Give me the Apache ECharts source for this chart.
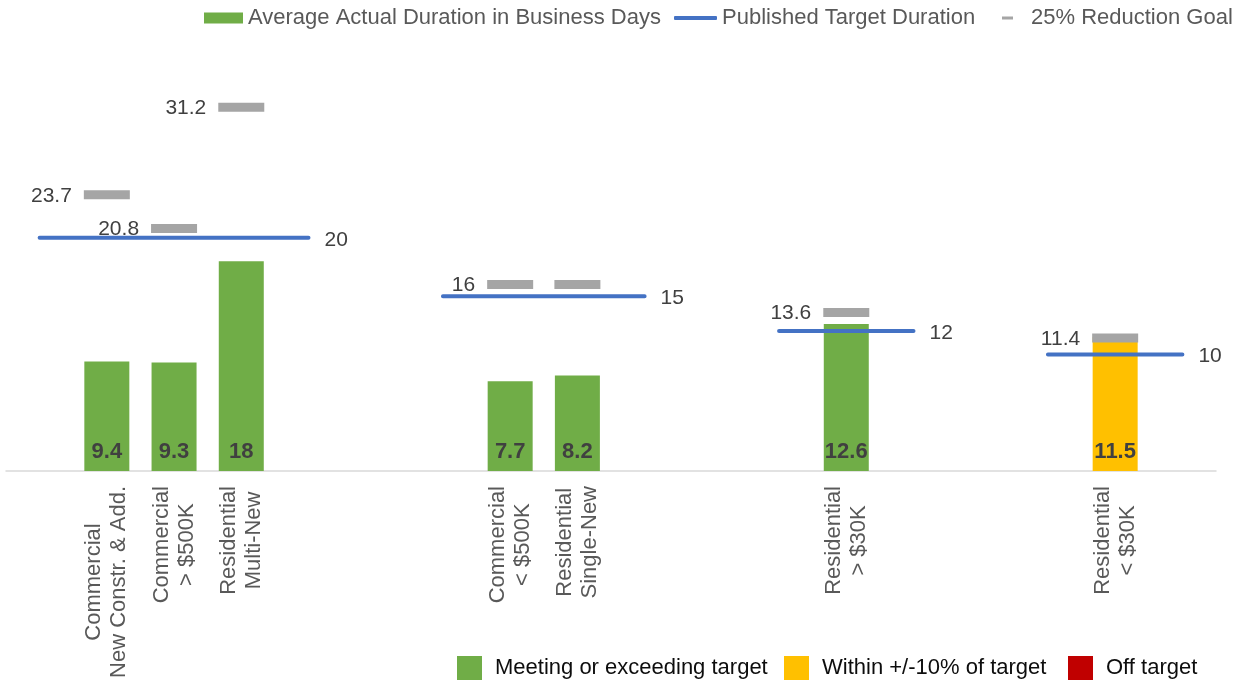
<!DOCTYPE html>
<html>
<head>
<meta charset="utf-8">
<script src="https://cdn.jsdelivr.net/npm/echarts@6/dist/echarts.min.js"></script>
<style>html,body{margin:0;padding:0;background:#fff}#c{width:1246px;height:684px}</style>
</head>
<body>
<div id="c"></div>
<script>
// ---- data ----
const categories = ['', 'Commercial\nNew Constr. & Add.', 'Commercial\n> $500K', 'Residential\nMulti-New', '', '', '',
  'Commercial\n< $500K', 'Residential\nSingle-New', '', '', '', 'Residential\n> $30K', '', '', '', 'Residential\n< $30K', ''];
const actualDays = [null, 9.4, 9.3, 18, null, null, null, 7.7, 8.2, null, null, null, 12.6, null, null, null, 11.5, null];
const status = [null, 'meet', 'meet', 'meet', null, null, null, 'meet', 'meet', null, null, null, 'meet', null, null, null, 'within', null];
const targetDays = [20, 20, 20, 20, 20, null, 15, 15, 15, 15, null, 12, 12, 12, null, 10, 10, 10];
const reductionGoal = [null, 23.7, 20.8, 31.2, null, null, null, 16, 16, null, null, null, 13.6, null, null, null, 11.4, null];
const reductionLabelShown = [false, true, true, true, false, false, false, true, false, false, false, false, true, false, false, false, true, false];
const statusNames = {meet: 'Meeting or exceeding target', within: 'Within +/-10% of target', off: 'Off target'};
const statusColors = {meet: '#70AD47', within: '#FFC000', off: '#C00000'};

const FONT = "'Liberation Sans', Arial, sans-serif";
const chart = echarts.init(document.getElementById('c'), null, {renderer: 'canvas'});

const barData = actualDays.map((v, i) => v == null ? null : {value: v, itemStyle: {color: statusColors[status[i]]}});
const lineData = targetDays.map((v, i) => {
  if (v == null) return null;
  const last = (i === targetDays.length - 1) || targetDays[i + 1] == null;
  return {value: v, label: {show: last}};
});
const goalData = reductionGoal.map((v, i) => v == null ? null : {value: v, label: {show: reductionLabelShown[i]}});

function topLegend(name, left, icon, w, h, textPad) {
  return {
    data: [{name: name, icon: icon}], left: left, top: 7, padding: 0, itemWidth: w, itemHeight: h,
    textStyle: {fontFamily: FONT, fontSize: 22, color: '#595959', lineHeight: 22, padding: [0, 0, 0, textPad]},
    selectedMode: false
  };
}
function bottomLegend(name, left) {
  return {
    data: [{name: name, icon: 'rect'}], left: left, top: 656, padding: 0, itemWidth: 25, itemHeight: 24,
    textStyle: {fontFamily: FONT, fontSize: 22, color: '#0d0d0d', lineHeight: 24, padding: [0, 0, 0, 8]},
    selectedMode: false
  };
}

chart.setOption({
  animation: false,
  backgroundColor: '#fff',
  grid: {left: 6, right: 30, top: 63, bottom: 213, containLabel: false},
  legend: [
    topLegend('Average Actual Duration in Business Days', 204, 'rect', 39, 11, 0),
    topLegend('Published Target Duration', 674, 'roundRect', 43, 4, 0),
    topLegend('25% Reduction Goal', 1002, 'rect', 11, 3, 13),
    bottomLegend(statusNames.meet, 457),
    bottomLegend(statusNames.within, 784),
    bottomLegend(statusNames.off, 1068)
  ],
  xAxis: {
    type: 'category',
    data: categories,
    axisLine: {lineStyle: {color: '#D9D9D9', width: 1.5}},
    axisTick: {show: false},
    axisLabel: {
      interval: 0, rotate: 90, margin: 15,
      fontFamily: FONT, fontSize: 22, color: '#595959', lineHeight: 25,
      formatter: function (v) { return v ? v.split('\n').map(s => '{c|' + s + '}').join('\n') : ''; },
      rich: {c: {align: 'center', fontFamily: FONT, fontSize: 22, color: '#595959', lineHeight: 25}}
    }
  },
  yAxis: {type: 'value', min: 0, max: 35, show: false, splitLine: {show: false}},
  series: [
    {
      name: 'Average Actual Duration in Business Days', type: 'bar', barWidth: 45,
      itemStyle: {color: statusColors.meet},
      data: barData,
      label: {show: true, position: 'insideBottom', distance: 8, fontFamily: FONT, fontSize: 22, fontWeight: 'bold', color: '#404040'}
    },
    {
      name: 'Published Target Duration', type: 'line', data: lineData, connectNulls: false,
      symbol: 'circle', symbolSize: 0, showSymbol: true, showAllSymbol: true,
      itemStyle: {color: '#4472C4'},
      lineStyle: {color: '#4472C4', width: 4, cap: 'round'},
      label: {position: 'right', distance: 16, offset: [0, 2], fontFamily: FONT, fontSize: 21, color: '#404040'},
      z: 3
    },
    {
      name: '25% Reduction Goal', type: 'scatter', data: goalData,
      symbol: 'rect', symbolSize: [46, 9],
      itemStyle: {color: '#A5A5A5', opacity: 1},
      label: {position: 'left', distance: 12, offset: [0, 1], fontFamily: FONT, fontSize: 21, color: '#404040'},
      z: 4
    },
    {name: statusNames.meet, type: 'scatter', data: [], itemStyle: {color: statusColors.meet, opacity: 1}},
    {name: statusNames.within, type: 'scatter', data: [], itemStyle: {color: statusColors.within, opacity: 1}},
    {name: statusNames.off, type: 'scatter', data: [], itemStyle: {color: statusColors.off, opacity: 1}}
  ]
});
</script>
</body>
</html>
